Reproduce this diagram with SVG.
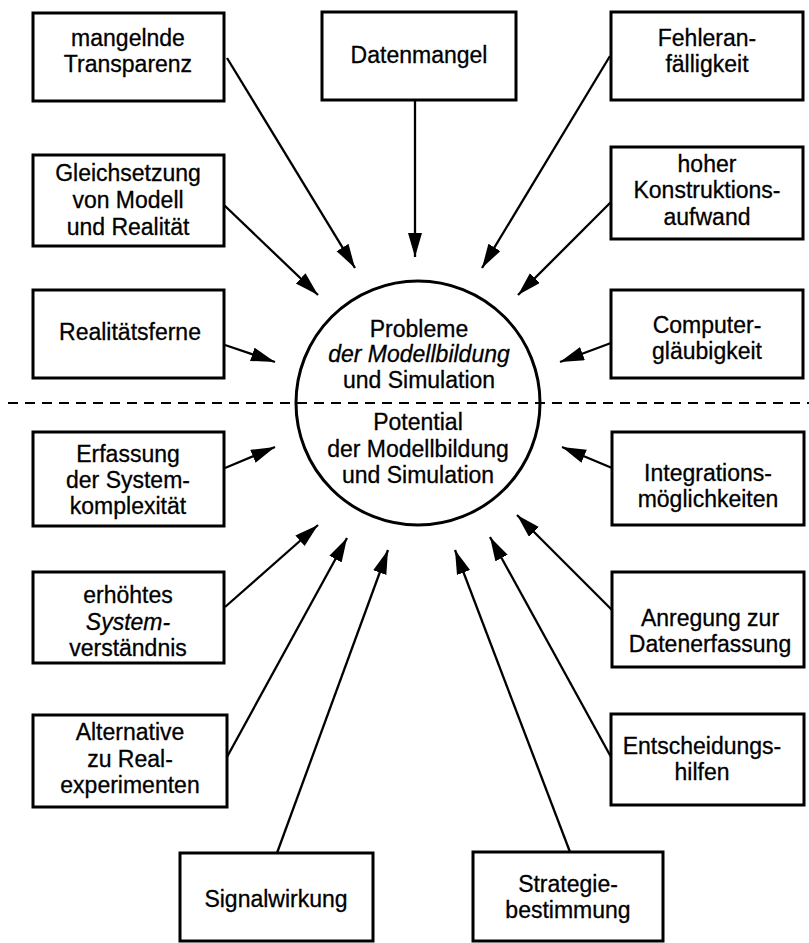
<svg xmlns="http://www.w3.org/2000/svg" width="809" height="943" viewBox="0 0 809 943">
<defs>
<marker id="ah" markerUnits="userSpaceOnUse" markerWidth="26" markerHeight="16" refX="24" refY="7" orient="auto">
<path d="M0,0 L24,7 L0,14 z" fill="#000"/>
</marker>
<style>
.box{fill:#fff;stroke:#000;stroke-width:3}
.t{font-family:"Liberation Sans",Arial,sans-serif;font-size:23px;fill:#000;stroke:#000;stroke-width:0.3;text-anchor:middle}
.i{font-style:italic}
.c{fill:none;stroke:#000;stroke-width:2.3;marker-end:url(#ah)}
</style>
</defs>
<rect width="809" height="943" fill="#fff"/>
<line x1="8" y1="403" x2="809" y2="403" stroke="#000" stroke-width="2" stroke-dasharray="10 7"/>
<g id="center">
<circle cx="418" cy="403" r="122" fill="none" stroke="#000" stroke-width="3"/>
<text class="t" x="419" y="337">Probleme</text>
<text class="t i" x="419" y="362">der Modellbildung</text>
<text class="t" x="419" y="388">und Simulation</text>
<text class="t" x="418" y="430">Potential</text>
<text class="t" x="418" y="457">der  Modellbildung</text>
<text class="t" x="418" y="483">und Simulation</text>
</g>
<g id="connectors">
<line class="c" x1="227" y1="58" x2="355" y2="268"/>
<line class="c" x1="415" y1="100" x2="415" y2="257"/>
<line class="c" x1="610" y1="56" x2="482" y2="268"/>
<line class="c" x1="224" y1="205" x2="318" y2="295"/>
<line class="c" x1="611" y1="202" x2="518" y2="295"/>
<line class="c" x1="225" y1="345" x2="275" y2="362"/>
<line class="c" x1="611" y1="343" x2="560" y2="362"/>
<line class="c" x1="225" y1="468" x2="275" y2="447"/>
<line class="c" x1="612" y1="468" x2="562" y2="447"/>
<line class="c" x1="225" y1="607" x2="318" y2="525"/>
<line class="c" x1="612" y1="610" x2="517" y2="515"/>
<line class="c" x1="227" y1="757" x2="347" y2="538"/>
<line class="c" x1="611" y1="757" x2="490" y2="537"/>
<line class="c" x1="277" y1="853" x2="388" y2="550"/>
<line class="c" x1="570" y1="852" x2="455" y2="550"/>
</g>
<g id="n1"><rect class="box" x="33" y="13" width="191" height="88"/>
<text class="t" x="128" y="46">mangelnde</text><text class="t" x="128" y="72">Transparenz</text></g>
<g id="n2"><rect class="box" x="322" y="12" width="194" height="88"/>
<text class="t" x="419" y="63">Datenmangel</text></g>
<g id="n3"><rect class="box" x="611" y="12" width="192" height="88"/>
<text class="t" x="707" y="46">Fehleran-</text><text class="t" x="707" y="72">fälligkeit</text></g>
<g id="n4"><rect class="box" x="33" y="155" width="191" height="91"/>
<text class="t" x="128" y="181">Gleichsetzung</text><text class="t" x="128" y="208">von Modell</text><text class="t" x="128" y="235">und Realität</text></g>
<g id="n5"><rect class="box" x="611" y="147" width="192" height="92"/>
<text class="t" x="707" y="172">hoher</text><text class="t" x="707" y="198">Konstruktions-</text><text class="t" x="707" y="225">aufwand</text></g>
<g id="n6"><rect class="box" x="33" y="290" width="191" height="88"/>
<text class="t" x="130" y="340">Realitätsferne</text></g>
<g id="n7"><rect class="box" x="611" y="290" width="192" height="88"/>
<text class="t" x="707" y="333">Computer-</text><text class="t" x="707" y="359">gläubigkeit</text></g>
<g id="n8"><rect class="box" x="33" y="432" width="191" height="94"/>
<text class="t" x="128" y="462">Erfassung</text><text class="t" x="128" y="488">der System-</text><text class="t" x="128" y="514">komplexität</text></g>
<g id="n9"><rect class="box" x="612" y="432" width="192" height="93"/>
<text class="t" x="708" y="481">Integrations-</text><text class="t" x="708" y="507">möglichkeiten</text></g>
<g id="n10"><rect class="box" x="33" y="572" width="191" height="91"/>
<text class="t" x="128" y="603">erhöhtes</text><text class="t i" x="128" y="630">System-</text><text class="t" x="128" y="656">verständnis</text></g>
<g id="n11"><rect class="box" x="612" y="572" width="192" height="95"/>
<text class="t" x="710" y="626">Anregung zur</text><text class="t" x="710" y="652">Datenerfassung</text></g>
<g id="n12"><rect class="box" x="33" y="715" width="194" height="92"/>
<text class="t" x="130" y="740">Alternative</text><text class="t" x="130" y="767">zu Real-</text><text class="t" x="130" y="793">experimenten</text></g>
<g id="n13"><rect class="box" x="611" y="714" width="193" height="91"/>
<text class="t" x="702" y="754">Entscheidungs-</text><text class="t" x="702" y="780">hilfen</text></g>
<g id="n14"><rect class="box" x="180" y="853" width="193" height="88"/>
<text class="t" x="276" y="907">Signalwirkung</text></g>
<g id="n15"><rect class="box" x="473" y="852" width="190" height="89"/>
<text class="t" x="568" y="892">Strategie-</text><text class="t" x="568" y="918">bestimmung</text></g>
</svg>
